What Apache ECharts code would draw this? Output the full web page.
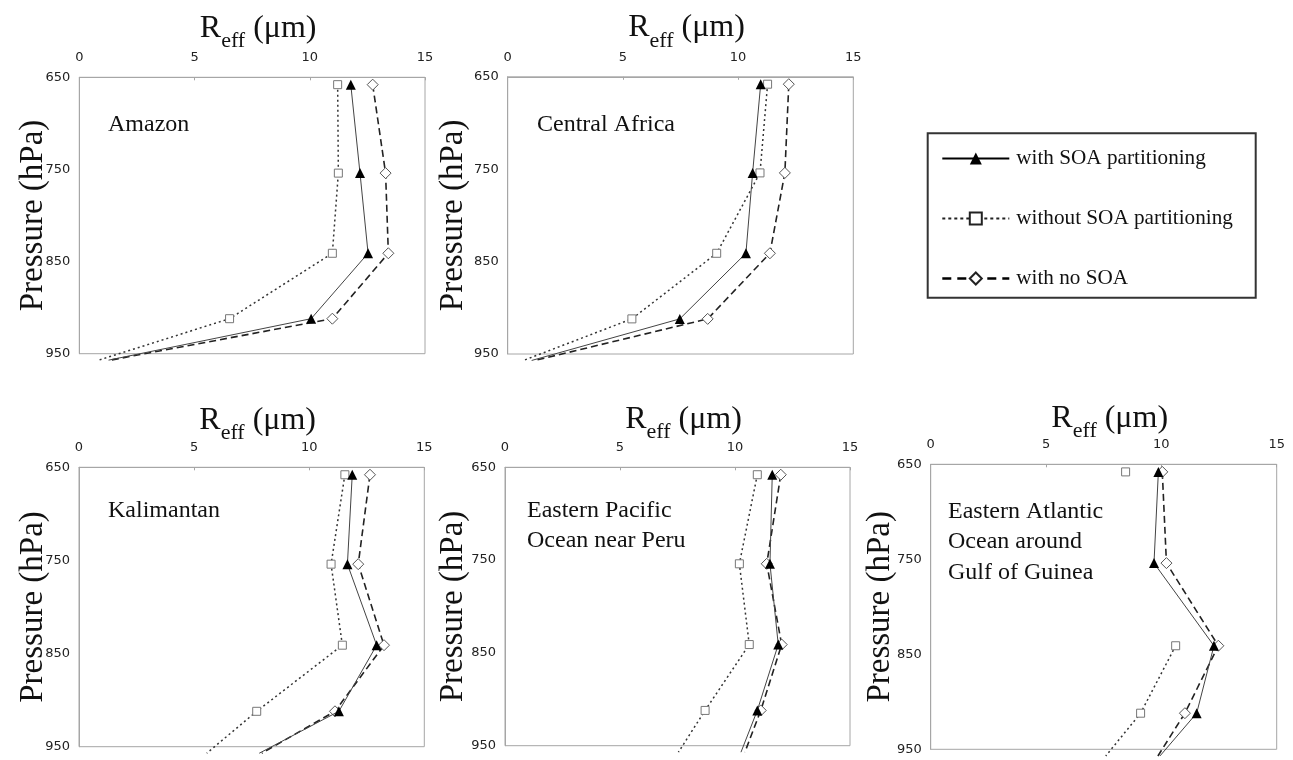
<!DOCTYPE html>
<html><head><meta charset="utf-8">
<script src="https://cdn.jsdelivr.net/npm/echarts@6/dist/echarts.min.js"></script>
<style>html,body{margin:0;padding:0;background:#fff}#c{width:1293px;height:760px}</style>
</head><body><div id="c"></div>
<script>
// ---------- data ----------
const pressureLevels = [658, 754, 841, 912, 957];   // hPa (last level lies just below the 950 axis end)
const xTickValues = [0, 5, 10, 15];
const yTickValues = [650, 750, 850, 950];
const seriesNames = ['with SOA partitioning', 'without SOA partitioning', 'with no SOA'];
const regionNames = ['Amazon', 'Central Africa', 'Kalimantan', 'Eastern Pacific\nOcean near Peru', 'Eastern Atlantic\nOcean around\nGulf of Guinea'];

const amazonWith      = [11.78, 12.18, 12.53, 10.06, 1.27];
const amazonWithout   = [11.21, 11.24, 10.98, 6.52, 0.84];
const amazonNoSOA     = [12.73, 13.29, 13.41, 10.98, 1.35];

const africaWith      = [10.98, 10.63, 10.34, 7.47, 1.04];
const africaWithout   = [11.28, 10.95, 9.07, 5.39, 0.68];
const africaNoSOA     = [12.20, 12.03, 11.38, 8.68, 1.18];

const kalimantanWith    = [11.87, 11.66, 12.93, 11.29, 7.83];
const kalimantanWithout = [11.55, 10.95, 11.44, 7.72, 5.55];
const kalimantanNoSOA   = [12.64, 12.13, 13.25, 11.12, 7.94];

const pacificWith     = [11.62, 11.52, 11.88, 10.97, 10.26];
const pacificWithout  = [10.97, 10.19, 10.62, 8.70, 7.54];
const pacificNoSOA    = [11.99, 11.38, 12.03, 11.12, 10.43];

const atlanticWith    = [9.87, 9.68, 12.28, 11.53, 9.94];
const atlanticWithout = [8.45, null, 10.62, 9.10, 7.59];
const atlanticNoSOA   = [10.04, 10.22, 12.47, 11.02, 9.85];

const panelSeries = [
  [amazonWith, amazonWithout, amazonNoSOA],
  [africaWith, africaWithout, africaNoSOA],
  [kalimantanWith, kalimantanWithout, kalimantanNoSOA],
  [pacificWith, pacificWithout, pacificNoSOA],
  [atlanticWith, atlanticWithout, atlanticNoSOA]
];

// ---------- layout / styles ----------
const layout = [
  {left: 79.3,  top: 77.3,  width: 345.7, height: 276.4, yGap: 29.5, xGap: 25, lx: 108, ly: 109},
  {left: 507.7, top: 76.8,  width: 345.6, height: 277.2, yGap: 38,   xGap: 25, lx: 537, ly: 109},
  {left: 79.0,  top: 467.3, width: 345.3, height: 279.4, yGap: 29.5, xGap: 23, lx: 108, ly: 495},
  {left: 505.0, top: 467.3, width: 345.0, height: 278.4, yGap: 35.5, xGap: 24, lx: 527, ly: 495},
  {left: 930.7, top: 464.3, width: 346.0, height: 285.0, yGap: 34,   xGap: 22, lx: 948, ly: 496}
];
const serif = '"Liberation Serif", "Times New Roman", serif';
const seriesStyle = [
  {symbol: 'triangle', symbolSize: 10, line: {color: '#444', width: 1, type: 'solid'},
   item: {color: '#000', borderColor: '#000', borderWidth: 0},
   legendLine: {color: '#000', width: 2.2, type: 'solid'}},
  {symbol: 'rect', symbolSize: 8, line: {color: '#333', width: 1.5, type: [2, 3]},
   item: {color: '#fff', borderColor: '#777', borderWidth: 1},
   legendLine: {color: '#222', width: 2, type: [3, 3]}},
  {symbol: 'diamond', symbolSize: 11, line: {color: '#222', width: 1.6, type: [7, 4]},
   item: {color: '#fff', borderColor: '#555', borderWidth: 1},
   legendLine: {color: '#000', width: 2.6, type: [9, 6]}}
];

const grids = [], xAxes = [], yAxes = [], series = [], graphics = [];
layout.forEach((L, i) => {
  grids.push({left: L.left, top: L.top, width: L.width, height: L.height,
    show: true, borderColor: '#a6a6a6', borderWidth: 1, backgroundColor: 'transparent'});
  xAxes.push({
    gridIndex: i, type: 'value', position: 'top',
    min: xTickValues[0], max: xTickValues[xTickValues.length - 1], interval: xTickValues[1] - xTickValues[0],
    axisLine: {show: true, lineStyle: {color: '#a6a6a6', width: 1}},
    axisTick: {show: true, inside: true, length: 3, lineStyle: {color: '#a6a6a6'}},
    axisLabel: {margin: 13, fontFamily: '"DejaVu Sans", sans-serif', fontSize: 13, color: '#222'},
    splitLine: {show: false},
    name: '{a|R}{s|eff}{a| (μm)}', nameLocation: 'middle', nameGap: L.xGap, nameMoveOverlap: false,
    nameTextStyle: {
      padding: [0, 0, 0, 12],
      rich: {
        a: {fontFamily: serif, fontSize: 32, color: '#111', verticalAlign: 'bottom', padding: [0, 0, 8, 0]},
        s: {fontFamily: serif, fontSize: 22, color: '#111', verticalAlign: 'bottom'}
      }
    }
  });
  yAxes.push({
    gridIndex: i, type: 'value', inverse: true,
    min: yTickValues[0], max: yTickValues[yTickValues.length - 1], interval: yTickValues[1] - yTickValues[0],
    axisLine: {show: true, lineStyle: {color: '#a6a6a6', width: 1}},
    axisTick: {show: false},
    axisLabel: {margin: 9, fontFamily: '"DejaVu Sans", sans-serif', fontSize: 13, color: '#222'},
    splitLine: {show: false},
    name: 'Pressure (hPa)', nameLocation: 'middle', nameRotate: 90, nameGap: L.yGap, nameMoveOverlap: false,
    nameTextStyle: {fontFamily: serif, fontSize: 33, color: '#111'}
  });
  panelSeries[i].forEach((vals, k) => {
    const S = seriesStyle[k];
    const data = vals.map((v, j) => {
      const pt = [v, pressureLevels[j]];
      if (v === null) return [null, pressureLevels[j]];
      return j === pressureLevels.length - 1 ? {value: pt, symbol: 'none'} : pt;
    });
    series.push({
      type: 'line', name: seriesNames[k], xAxisIndex: i, yAxisIndex: i,
      data: data, clip: false, connectNulls: false,
      symbol: S.symbol, symbolSize: S.symbolSize, showAllSymbol: true,
      lineStyle: S.line, itemStyle: S.item,
      z: 3 - k, emphasis: {disabled: true}
    });
  });
  graphics.push({type: 'text', left: L.lx, top: L.ly,
    style: {text: regionNames[i], font: '24px ' + serif, fill: '#111', lineHeight: 30.5}});
});

graphics.push({type: 'rect', shape: {x: 927.7, y: 133.3, width: 328, height: 164.4},
  style: {fill: 'transparent', stroke: '#333', lineWidth: 2}});

const option = {
  animation: false,
  backgroundColor: '#fff',
  grid: grids, xAxis: xAxes, yAxis: yAxes, series: series, graphic: graphics,
  legend: {
    orient: 'vertical', left: 941, top: 148, padding: 0,
    itemWidth: 67, itemHeight: 15, itemGap: 39, selectedMode: false,
    textStyle: {fontFamily: serif, fontSize: 21.2, color: '#111', padding: [0, 0, 0, 2]},
    data: seriesNames.map((n, k) => ({name: n, lineStyle: seriesStyle[k].legendLine,
      itemStyle: k === 0 ? {color: '#000'} : {color: '#fff', borderColor: '#222', borderWidth: 2}}))
  }
};
const chart = echarts.init(document.getElementById('c'), null, {renderer: 'canvas'});
chart.setOption(option);
</script></body></html>
